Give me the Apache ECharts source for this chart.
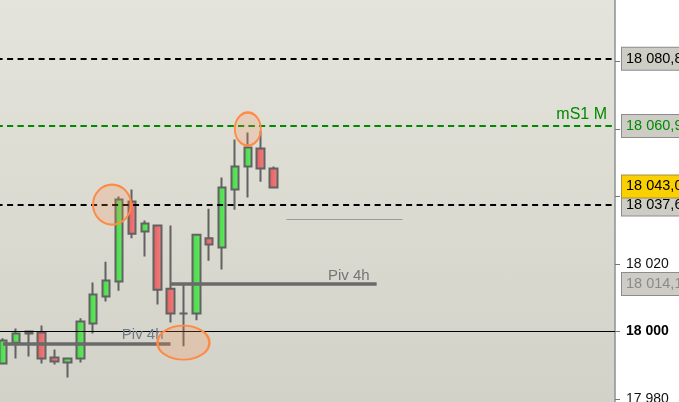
<!DOCTYPE html>
<html><head><meta charset="utf-8">
<script src="https://cdn.jsdelivr.net/npm/echarts@6/dist/echarts.min.js"></script>
<style>
html,body{margin:0;padding:0;}
#c{width:679px;height:402px;background:linear-gradient(#ffffff,#ffffff) right top/64px 100% no-repeat, linear-gradient(#e4e4dc,#d2d2c8);}
</style></head><body><div id="c"></div>
<script>
// slots on the time axis (22 candles drawn, rest empty space)
const categories = Array.from({length: 48}, (_, i) => 'b' + (i + 1));
// [open, close, low, high]
const candles = [
  [17990.5, 17997.3, 17990.2, 17998.0],
  [17996.7, 17999.4, 17992.0, 18000.9],
  [18000.0, 17999.4, 17992.6, 18000.3],
  [17999.7, 17992.0, 17990.5, 18001.8],
  [17992.3, 17991.1, 17990.2, 17994.7],
  [17990.8, 17992.0, 17986.4, 17992.1],
  [17992.0, 18003.0, 17990.8, 18003.9],
  [18002.4, 18011.0, 17999.4, 18014.5],
  [18010.4, 18015.1, 18008.9, 18020.7],
  [18014.8, 18039.1, 18012.1, 18040.0],
  [18038.5, 18029.0, 18027.6, 18042.1],
  [18029.6, 18032.0, 18022.2, 18032.9],
  [18031.4, 18012.4, 18008.0, 18031.4],
  [18012.7, 18005.3, 18002.7, 18031.4],
  [18005.3, 18005.3, 17995.6, 18014.2],
  [18005.3, 18028.7, 18003.3, 18028.7],
  [18027.6, 18025.8, 18021.0, 18036.4],
  [18024.9, 18042.7, 18018.4, 18045.6],
  [18042.1, 18048.9, 18036.1, 18056.9],
  [18048.9, 18054.5, 18039.7, 18059.0],
  [18054.2, 18048.3, 18044.4, 18059.3],
  [18048.3, 18042.7, 18042.7, 18048.9]
];
const yTicks = {min: 17960, max: 18100, step: 20};
const hiddenTicks = [18040, 18060, 18080];
const resistance = 18080.80;
const mS1 = 18060.90;
const lastPrice = 18043.00;
const support = 18037.60;
const pivUpper = 18014.10;
const pivLower = 17996.40;
const roundLevel = 18000;
const minorLevel = 18033.2;
const pivUpperSpan = [13, 29];
const pivLowerSpan = [0, 13];
const minorSpan = [22, 31];
const pivLabel = 'Piv 4h';
const mS1Label = 'mS1 M';
// highlight ellipses: [slot position, price]
const circles = [[8.46, 18037.6], [19, 18060.0], [14, 17996.7]];

function fmt(v) {
  const s = v.toFixed(2).split('.');
  return s[0].slice(0, 2) + ' ' + s[0].slice(2) + ',' + s[1];
}
const FONT = 'Liberation Sans, Arial, sans-serif';
function box(color, bg, border) {
  return {show: true, position: 'end', distance: 7, formatter: p => fmt(p.value),
    color: color, fontSize: 14.5, fontFamily: FONT, backgroundColor: bg, opacity: 1,
    borderColor: border, borderWidth: 1, padding: [3, 4, 3, 4], lineHeight: 16};
}
const dashBlack = {color: '#000', type: [6, 4.5], width: 2};
const dashGreen = {color: '#008a00', type: [6, 4.5], width: 2};
const hidden = {color: 'rgba(0,0,0,0)', width: 1, type: 'solid'};
const pivStyle = {color: '#6a6a6a', width: 3.5, type: 'solid'};
const pivLbl = c => ({show: true, position: 'insideEndTop', distance: [7, 1], formatter: pivLabel, color: c, fontSize: 15, fontFamily: FONT});
const noLbl = {show: false};

const chart = echarts.init(document.getElementById('c'), null, {renderer: 'canvas'});
chart.setOption({
  animation: false,
  grid: {left: -3.4, right: 64, top: -6, bottom: -64.5, containLabel: false, outerBoundsMode: 'none'},
  xAxis: [
    {type: 'category', data: categories, boundaryGap: true, show: false},
    {type: 'value', min: -0.5, max: categories.length - 0.5, show: false}
  ],
  yAxis: {
    type: 'value', position: 'right', min: yTicks.min, max: yTicks.max, interval: yTicks.step,
    scale: true, splitLine: {show: false},
    axisLine: {show: true, onZero: false, lineStyle: {color: '#8a9292', width: 1.5}},
    axisTick: {show: true, length: 5, lineStyle: {color: '#777'}},
    axisLabel: {
      margin: 11, color: '#111', fontSize: 14, fontFamily: FONT, showMaxLabel: true, showMinLabel: true,
      formatter: v => {
        if (hiddenTicks.indexOf(v) >= 0) return '';
        const s = String(v); const t = s.slice(0, 2) + ' ' + s.slice(2);
        return v === roundLevel ? '{b|' + t + '}' : t;
      },
      rich: {b: {fontWeight: 'bold', fontSize: 14, fontFamily: FONT, color: '#000'}}
    }
  },
  series: [{
    type: 'candlestick',
    data: candles,
    barWidth: 8,
    itemStyle: {
      color: new echarts.graphic.LinearGradient(0, 0, 1, 0, [{offset: 0, color: '#46d646'}, {offset: 1, color: '#66ea66'}]),
      color0: new echarts.graphic.LinearGradient(0, 0, 1, 0, [{offset: 0, color: '#e45c5c'}, {offset: 1, color: '#f28282'}]),
      borderColor: '#626262', borderColor0: '#626262', borderColorDoji: '#626262', borderWidth: 2
    },
    markLine: {
      symbol: 'none', silent: true, animation: false,
      data: [
        {yAxis: resistance, lineStyle: dashBlack, label: box('#000', '#cdcdc6', '#8c8c8c')},
        {yAxis: mS1, lineStyle: dashGreen, label: box('#008a00', '#cdcdc6', '#8c8c8c')},
        {yAxis: mS1, lineStyle: dashGreen, label: {show: true, position: 'insideEndTop', distance: [8, 3], formatter: mS1Label, color: '#008a00', fontSize: 16, fontFamily: FONT}},
        {yAxis: support, lineStyle: dashBlack, label: box('#000', '#cdcdc6', '#8c8c8c')},
        {yAxis: lastPrice, lineStyle: hidden, label: box('#000', '#fad000', '#a89040')},
        {yAxis: pivUpper, lineStyle: hidden, label: box('#8a8a8a', '#cdcdc6', '#8c8c8c')},
        {yAxis: roundLevel, lineStyle: {color: '#000', width: 1.2, type: 'solid'}, label: noLbl},
        [{coord: [pivUpperSpan[0], pivUpper], lineStyle: pivStyle, label: pivLbl('#757575')},
         {coord: [pivUpperSpan[1], pivUpper], lineStyle: pivStyle, label: pivLbl('#757575')}],
        [{coord: [pivLowerSpan[0], pivLower], lineStyle: pivStyle, label: pivLbl('#707a88')},
         {coord: [pivLowerSpan[1], pivLower], lineStyle: pivStyle, label: pivLbl('#707a88')}],
        [{coord: [minorSpan[0], minorLevel], lineStyle: {color: '#9a9a9a', width: 1, type: 'solid'}, label: noLbl},
         {coord: [minorSpan[1], minorLevel], lineStyle: {color: '#9a9a9a', width: 1, type: 'solid'}, label: noLbl}]
      ]
    }
  }, {
    type: 'scatter',
    xAxisIndex: 1,
    silent: true,
    z: 5,
    symbol: 'circle',
    itemStyle: {color: 'rgba(255,140,80,0.22)', borderColor: '#ff8a45', borderWidth: 2, opacity: 1},
    data: [
      {value: circles[0], symbolSize: [38, 40]},
      {value: circles[1], symbolSize: [26, 33]},
      {value: circles[2], symbolSize: [52, 34]}
    ]
  }]
});
</script></body></html>
